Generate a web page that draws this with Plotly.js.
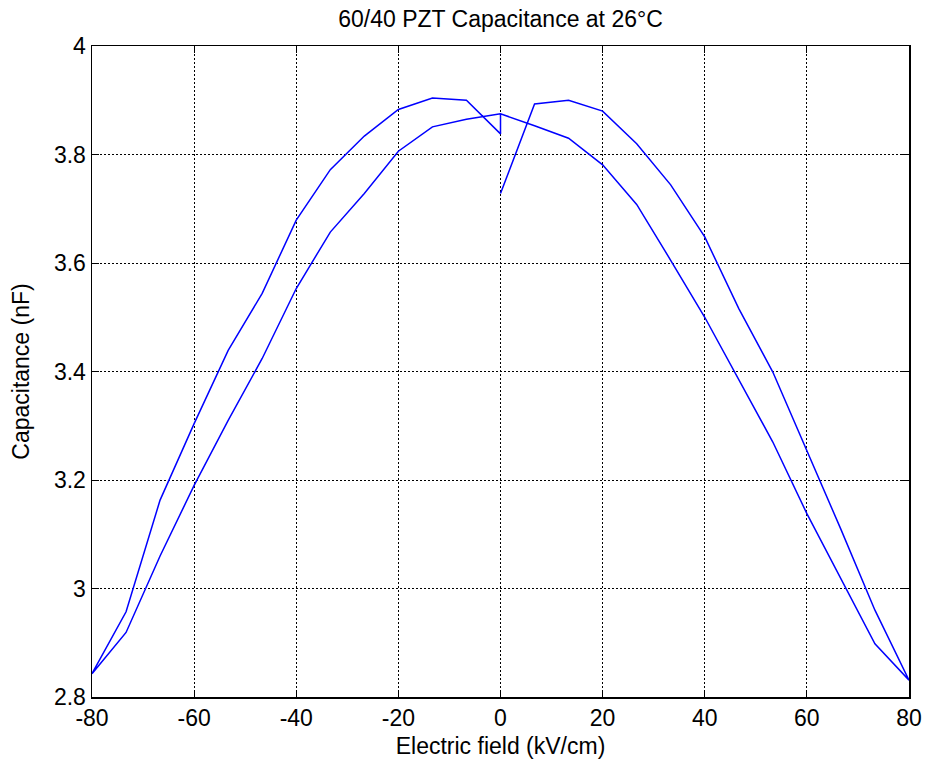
<!DOCTYPE html>
<html>
<head>
<meta charset="utf-8">
<script src="https://cdn.plot.ly/plotly-3.0.1.min.js"></script>
<style>html,body{margin:0;padding:0;background:#fff;}#chart{width:927px;height:770px;}</style>
</head>
<body>
<div id="chart"></div>
<script>
// Electric field sweep (kV/cm) and measured capacitance (nF)
const fieldUpRight   = [0, 6.67, 13.33, 20, 26.67, 33.33, 40, 46.67, 53.33, 60, 66.67, 73.33, 80];
const capUpRight     = [3.728, 3.893, 3.900, 3.880, 3.820, 3.744, 3.648, 3.516, 3.399, 3.254, 3.109, 2.960, 2.831];
const fieldDownRight = [73.33, 66.67, 60, 53.33, 46.67, 40, 33.33, 26.67, 20, 13.33, 6.67, 0];
const capDownRight   = [2.898, 3.017, 3.138, 3.270, 3.384, 3.500, 3.605, 3.708, 3.781, 3.830, 3.853, 3.875];
const fieldDownLeft  = [-6.67, -13.33, -20, -26.67, -33.33, -40, -46.67, -53.33, -60, -66.67, -73.33, -80];
const capDownLeft    = [3.865, 3.851, 3.806, 3.728, 3.657, 3.553, 3.424, 3.310, 3.190, 3.060, 2.919, 2.843];
const fieldUpLeft    = [-73.33, -66.67, -60, -53.33, -46.67, -40, -33.33, -26.67, -20, -13.33, -6.67, 0, 0];
const capUpLeft      = [2.957, 3.163, 3.304, 3.439, 3.544, 3.679, 3.772, 3.834, 3.883, 3.904, 3.900, 3.838, 3.875];

const xTicks = [-80, -60, -40, -20, 0, 20, 40, 60, 80];
const yTicks = [2.8, 3, 3.2, 3.4, 3.6, 3.8, 4];
const yTickText = ['2.8', '3', '3.2', '3.4', '3.6', '3.8', '4'];

const xs = [].concat(fieldUpRight, fieldDownRight, fieldDownLeft, fieldUpLeft);
const ys = [].concat(capUpRight, capDownRight, capDownLeft, capUpLeft);

const font = {family: 'Arial, "Liberation Sans", sans-serif', size: 23, color: '#000'};

const axisCommon = {
  showline: true, linecolor: '#000', linewidth: 1.5, mirror: 'allticks',
  ticks: 'inside', ticklen: 7, tickwidth: 1, tickcolor: '#000',
  showgrid: true, gridcolor: '#000', gridwidth: 1, griddash: '2px,2px',
  zeroline: false, tickfont: font, automargin: false
};

const layout = {
  width: 927, height: 770,
  margin: {l: 92, r: 18, t: 46, b: 73},
  paper_bgcolor: '#fff', plot_bgcolor: '#fff',
  showlegend: false,
  font: font,
  title: {text: '60/40 PZT Capacitance at 26°C', font: font, x: 0.5, xref: 'paper', y: 0.976, yanchor: 'middle'},
  xaxis: Object.assign({}, axisCommon, {
    range: [-80, 80], tickvals: xTicks, ticktext: xTicks.map(String),
    title: {text: 'Electric field (kV/cm)', font: font, standoff: 8}
  }),
  yaxis: Object.assign({}, axisCommon, {
    range: [2.8, 4], tickvals: yTicks, ticktext: yTickText,
    title: {text: 'Capacitance (nF)', font: font, standoff: 18}
  })
};

Plotly.newPlot('chart', [{
  x: xs, y: ys, type: 'scatter', mode: 'lines',
  line: {color: '#0000ff', width: 1.5}, hoverinfo: 'skip'
}], layout, {displayModeBar: false, staticPlot: true});
</script>
</body>
</html>
